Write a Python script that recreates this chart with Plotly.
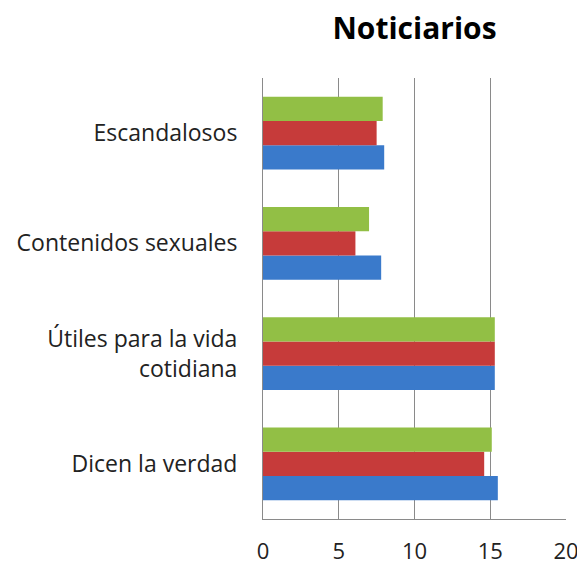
import plotly.graph_objects as go

# categories listed bottom to top, as plotly draws them
categories = ["Dicen la verdad", "Útiles para la vida<br>cotidiana",
              "Contenidos sexuales", "Escandalosos"]
serie_1 = [15.5, 15.3, 7.8, 8.0]   # blue
serie_2 = [14.6, 15.3, 6.1, 7.5]   # red
serie_3 = [15.1, 15.3, 7.0, 7.9]   # green
x_ticks = [0, 5, 10, 15, 20]

colors = ["#3a7acb", "#c63b3a", "#92bf45"]

fig = go.Figure()
for name, vals, col in zip(["Serie 1", "Serie 2", "Serie 3"],
                           [serie_1, serie_2, serie_3], colors):
    fig.add_trace(go.Bar(
        y=categories, x=vals, name=name, orientation="h",
        marker=dict(color=col, line=dict(width=0)),
    ))

# page body has an 8px margin, so the figure is sized to fit inside it
fig.update_layout(
    barmode="group",
    bargap=0.34,
    bargroupgap=0,
    showlegend=False,
    width=577, height=561,
    margin=dict(l=255, r=19, t=70, b=50),
    paper_bgcolor="white",
    plot_bgcolor="white",
    font=dict(family="Open Sans, Lato, sans-serif", size=23, color="#222222"),
    title=dict(text="<b>Noticiarios</b>", x=0.5, xref="paper", xanchor="center",
               y=1 - 20 / 561, yanchor="middle", font=dict(size=30, color="#000000")),
)
fig.update_xaxes(
    range=[0, 20], tickvals=x_ticks, showgrid=True, gridcolor="#8a8a8a",
    gridwidth=1, showline=True, linecolor="#8a8a8a", zeroline=False,
    ticks="", tickfont=dict(size=22), ticklabelstandoff=13, automargin=False,
)
fig.update_yaxes(
    showline=True, linecolor="#8a8a8a", ticks="", showgrid=False,
    tickfont=dict(size=23), ticklabelstandoff=20, automargin=False,
)

fig.write_html("out.html")
